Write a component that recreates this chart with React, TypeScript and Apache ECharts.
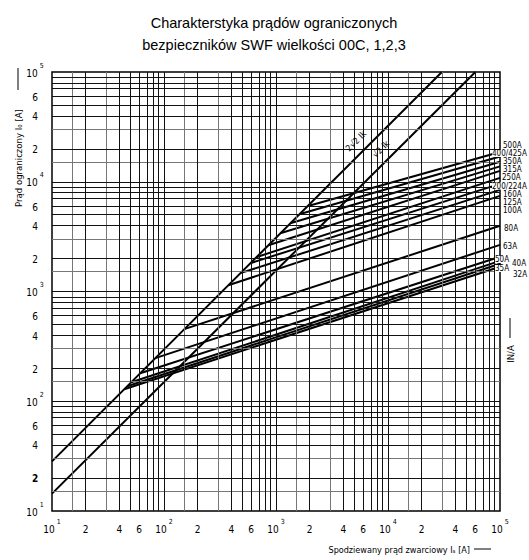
import React, { useEffect, useRef } from 'react';
import * as echarts from 'echarts';

// ---- axis ticks (both axes, amperes) ----
const TICK_VALUES = [10, 20, 40, 60, 100, 200, 400, 600, 1000, 2000, 4000, 6000, 10000, 20000, 40000, 60000, 100000];
const TICK_TEXT = ['10|1', '2', '4', '6', '10|2', '2', '4', '6', '10|3', '2', '4', '6', '10|4', '2', '4', '6', '10|5'];

// ---- grid lines inside each decade ----
const DECADES = [10, 100, 1000, 10000];
const GRID_DARK = [2, 4, 5, 6, 7, 8, 9];
const GRID_GRAY = [1.5, 3];

// ---- diagonal lines (prospective peak current) ----
const DIAG_NAMES = ['2√2 Ik', '√2 Ik'];
const DIAG_START_I = [10, 10];
const DIAG_START_IO = [28.3, 14.4];
const DIAG_END_I = [30300, 60300];
const DIAG_END_IO = [100000, 100000];

// ---- fuse cut-off lines ----
const FUSE_NAMES = ['32A', '35A', '40A', '50A', '63A', '80A', '100A', '125A', '160A', '200/224A', '250A', '315A', '350A', '400/425A', '500A'];
const FUSE_START_I = [44.2, 47, 51, 61.3, 83.6, 151.7, 375, 480, 589, 666, 853, 1091, 1340, 1614, 1901];
const FUSE_START_IO = [128.8, 137.2, 149, 180, 247, 454, 1140, 1469, 1811, 2054, 2642, 3398, 4188, 5058, 5984];
const FUSE_END_I = [100000, 100000, 100000, 100000, 100000, 100000, 100000, 100000, 100000, 100000, 100000, 100000, 100000, 100000, 100000];
const FUSE_END_IO = [1680, 1790, 1900, 2070, 2660, 3970, 7440, 8440, 9560, 10840, 12560, 13800, 15200, 17000, 18700];

// label placement (pixels: left x, centre y)
const FUSE_LABEL_X = [513, 495, 512, 495, 503, 504, 503, 503, 503, 492, 502, 503, 503, 492, 503];
const FUSE_LABEL_Y = [274, 268.5, 263.5, 259.5, 246.5, 228, 210.5, 202.5, 194.5, 186, 177.5, 169.5, 161.5, 153.5, 145.5];

const L = (v: number) => Math.log10(v);
const FONT = "'Liberation Sans Narrow','DejaVu Sans Condensed','Roboto Condensed','Arial Narrow',Roboto,sans-serif";
const TITLE_FONT = "'Liberation Sans',Arial,Helvetica,sans-serif";

export default function App() {
  const ref = useRef<HTMLDivElement>(null);

  useEffect(() => {
    if (!ref.current) return;
    const chart = echarts.init(ref.current, null, { renderer: 'svg' });

    const tickVals = TICK_VALUES.map(L);
    const fmt = (isY: boolean) => (v: number) => {
      let idx = 0;
      let best = Infinity;
      tickVals.forEach((t, i) => {
        const d = Math.abs(t - v);
        if (d < best) { best = d; idx = i; }
      });
      const t = TICK_TEXT[idx];
      if (t.includes('|')) {
        const [b, s] = t.split('|');
        return `{b|${b}}{s|${s}}`;
      }
      if (isY && idx === 1) return `{pb|${t}}`;
      return `{p|${t}}`;
    };
    const rich = {
      b: { fontSize: 10, fontFamily: FONT, color: '#000', verticalAlign: 'bottom', lineHeight: 11 },
      s: { fontSize: 7, fontFamily: FONT, color: '#000', verticalAlign: 'top', lineHeight: 16, padding: [0, 0, 0, 2] },
      p: { fontSize: 10, fontFamily: FONT, color: '#000', verticalAlign: 'bottom', lineHeight: 16 },
      pb: { fontSize: 10, fontFamily: FONT, color: '#000', fontWeight: 'bold', verticalAlign: 'bottom', lineHeight: 16 },
    };

    const gridLines: any[] = [];
    DECADES.forEach((d) => {
      GRID_GRAY.forEach((m) => {
        gridLines.push({ xAxis: L(d * m), lineStyle: { color: '#777', width: 1, type: 'solid' } });
        gridLines.push({ yAxis: L(d * m), lineStyle: { color: '#777', width: 1, type: 'solid' } });
      });
    });
    DECADES.forEach((d) => {
      GRID_DARK.forEach((m) => {
        gridLines.push({ xAxis: L(d * m), lineStyle: { color: '#111', width: 1, type: 'solid' } });
        gridLines.push({ yAxis: L(d * m), lineStyle: { color: '#111', width: 1, type: 'solid' } });
      });
      if (d > 10) {
        gridLines.push({ xAxis: L(d), lineStyle: { color: '#111', width: 1, type: 'solid' } });
        gridLines.push({ yAxis: L(d), lineStyle: { color: '#111', width: 1, type: 'solid' } });
      }
    });

    const series: any[] = [
      {
        type: 'line',
        z: 1,
        silent: true,
        data: [[1, 1]],
        symbol: 'none',
        lineStyle: { opacity: 0 },
        markLine: {
          silent: true,
          symbol: ['none', 'none'],
          label: { show: false },
          emphasis: { disabled: true },
          data: gridLines,
        },
      },
    ];

    DIAG_NAMES.forEach((n, i) => {
      series.push({
        type: 'line',
        name: n,
        z: 3,
        symbol: 'none',
        lineStyle: { color: '#000', width: 2 },
        data: [
          [L(DIAG_START_I[i]), L(DIAG_START_IO[i])],
          [L(DIAG_END_I[i]), L(DIAG_END_IO[i])],
        ],
      });
    });

    FUSE_NAMES.forEach((n, i) => {
      series.push({
        type: 'line',
        name: n,
        z: 4,
        symbol: 'none',
        lineStyle: { color: '#000', width: 2 },
        data: [
          [L(FUSE_START_I[i]), L(FUSE_START_IO[i])],
          [L(FUSE_END_I[i]), L(FUSE_END_IO[i])],
        ],
      });
    });

    const fuseLabels = FUSE_NAMES.map((n, i) => ({
      type: 'text',
      x: FUSE_LABEL_X[i],
      y: FUSE_LABEL_Y[i],
      z: 20,
      style: {
        text: n,
        fontFamily: FONT,
        fontSize: 8,
        lineHeight: 7,
        fill: '#000',
        align: 'left',
        verticalAlign: 'middle',
        backgroundColor: '#fff',
      },
    }));

    chart.setOption({
      animation: false,
      backgroundColor: '#fff',
      title: {
        text: 'Charakterstyka prądów ograniczonych\nbezpieczników SWF wielkości 00C, 1,2,3',
        left: 269,
        top: 7,
        textAlign: 'center',
        textStyle: { fontFamily: TITLE_FONT, fontSize: 14.5, fontWeight: 'normal', color: '#000', lineHeight: 22 },
      },
      grid: { left: 52, right: 29, top: 72, bottom: 49, show: true, borderColor: '#000', borderWidth: 1.5, backgroundColor: 'transparent' },
      xAxis: {
        type: 'value',
        min: 1,
        max: 5,
        axisLine: { show: false },
        axisTick: { show: false },
        splitLine: { show: false },
        axisLabel: { customValues: tickVals, formatter: fmt(false), rich, margin: 7 },
      },
      yAxis: {
        type: 'value',
        min: 1,
        max: 5,
        axisLine: { show: false },
        axisTick: { show: false },
        splitLine: { show: false },
        axisLabel: { customValues: tickVals, formatter: fmt(true), rich, margin: 17, align: 'center', padding: [0, 0, 4, 0] },
      },
      series,
      graphic: [
        ...fuseLabels,
        { type: 'text', x: 18, y: 158, rotation: Math.PI / 2, style: { text: 'Prąd ograniczony I₀ [A]', fontFamily: FONT, fontSize: 9.5, fill: '#000', align: 'center', verticalAlign: 'middle' } },
        { type: 'line', shape: { x1: 18, y1: 68, x2: 18, y2: 90 }, style: { stroke: '#000', lineWidth: 1 } },
        { type: 'text', x: 470, y: 550, style: { text: 'Spodziewany prąd zwarciowy Iₛ [A]', fontFamily: FONT, fontSize: 9, fill: '#000', align: 'right', verticalAlign: 'middle' } },
        { type: 'line', shape: { x1: 474, y1: 549, x2: 491, y2: 549 }, style: { stroke: '#000', lineWidth: 1 } },
        { type: 'text', x: 510, y: 354, rotation: Math.PI / 2, style: { text: 'IN/A', fontFamily: FONT, fontSize: 9.5, fill: '#000', align: 'center', verticalAlign: 'middle' } },
        { type: 'line', shape: { x1: 510, y1: 318, x2: 510, y2: 338 }, style: { stroke: '#000', lineWidth: 1 } },
        { type: 'text', x: 356, y: 141, rotation: Math.PI / 4, z: 10, style: { text: '2√2 Ik', fontFamily: FONT, fontSize: 9, fill: '#000', align: 'center', verticalAlign: 'middle' } },
        { type: 'text', x: 381, y: 149, rotation: Math.PI / 4, z: 10, style: { text: '√2 Ik', fontFamily: FONT, fontSize: 9, fill: '#000', align: 'center', verticalAlign: 'middle' } },
      ],
    });

    return () => chart.dispose();
  }, []);

  return <div ref={ref} style={{ position: 'absolute', left: 0, top: 0, width: 529, height: 560 }} />;
}
